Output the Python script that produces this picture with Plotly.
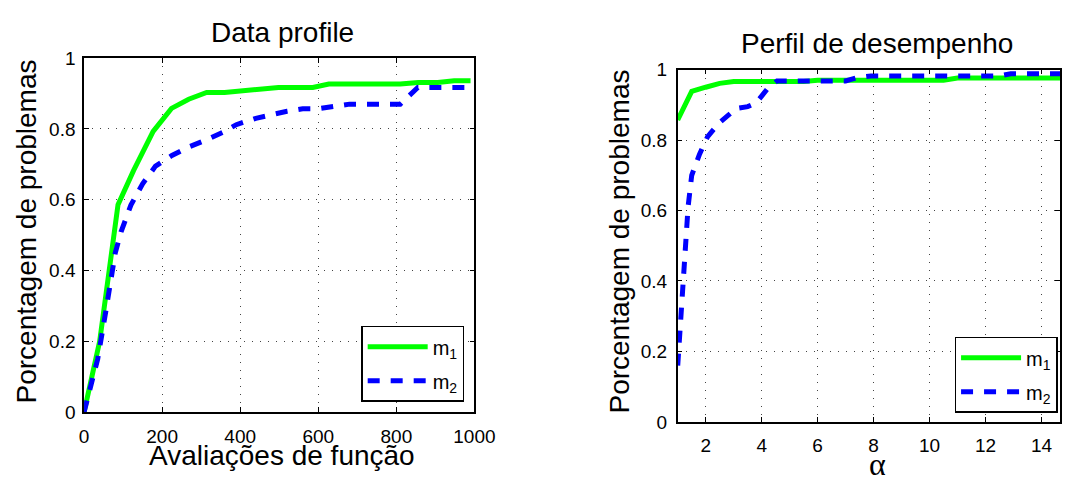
import plotly.graph_objects as go

W, H = 1081, 486

# ---- Data profile (left) ----
dp_x_m1 = [0, 40, 87, 127, 177, 224, 268, 314, 360, 450, 498, 586, 627, 810, 856, 906, 948, 990]
dp_y_m1 = [0, 0.2, 0.586, 0.683, 0.793, 0.858, 0.884, 0.903, 0.903, 0.913, 0.917, 0.917,
           0.927, 0.927, 0.931, 0.931, 0.936, 0.936]
dp_x_m2 = [0, 35, 55, 80, 95, 120, 150, 183, 225, 270, 315, 355, 390, 440, 520, 560, 600,
           640, 680, 810, 855, 990]
dp_y_m2 = [0, 0.15, 0.28, 0.45, 0.51, 0.585, 0.645, 0.695, 0.725, 0.75, 0.77, 0.79, 0.812,
           0.83, 0.85, 0.857, 0.857, 0.863, 0.87, 0.87, 0.917, 0.917]

# ---- Perfil de desempenho (right) ----
pp_x_m1 = [1, 1.5, 2, 2.5, 3, 5.5, 6, 10.5, 11, 15.2]
pp_y_m1 = [0.857, 0.938, 0.95, 0.961, 0.966, 0.966, 0.970, 0.970, 0.976, 0.976]
pp_x_m2 = [1.0, 1.08, 1.17, 1.28, 1.37, 1.5, 1.78, 2.07, 2.5, 2.8, 3.1, 3.5, 3.8, 4.2, 4.55,
           7.0, 7.4, 7.9, 12.5, 12.9, 15.2]
pp_y_m2 = [0.16, 0.26, 0.37, 0.5, 0.61, 0.7, 0.76, 0.81, 0.85, 0.87, 0.89, 0.895, 0.905,
           0.945, 0.968, 0.968, 0.977, 0.982, 0.982, 0.988, 0.988]

series_names = ["m<sub>1</sub>", "m<sub>2</sub>"]
dp_xticks = [0, 200, 400, 600, 800, 1000]
pp_xticks = [2, 4, 6, 8, 10, 12, 14]
y_ticks = [0, 0.2, 0.4, 0.6, 0.8, 1]

GREEN = "#00ff00"
BLUE = "#0000ff"
FONT = "Liberation Sans, Arial, Helvetica, sans-serif"


def fx(p):
    return p / W


def fy(p):
    return 1 - p / H


fig = go.Figure()
fig.add_trace(go.Scatter(x=dp_x_m1, y=dp_y_m1, mode="lines", name=series_names[0],
                         legendgroup="a", line=dict(color=GREEN, width=5),
                         xaxis="x", yaxis="y", legend="legend"))
fig.add_trace(go.Scatter(x=dp_x_m2, y=dp_y_m2, mode="lines", name=series_names[1],
                         legendgroup="b", line=dict(color=BLUE, width=5, dash="12px,11px"),
                         xaxis="x", yaxis="y", legend="legend"))
fig.add_trace(go.Scatter(x=pp_x_m1, y=pp_y_m1, mode="lines", name=series_names[0],
                         legendgroup="c", line=dict(color=GREEN, width=5),
                         xaxis="x2", yaxis="y2", legend="legend2"))
fig.add_trace(go.Scatter(x=pp_x_m2, y=pp_y_m2, mode="lines", name=series_names[1],
                         legendgroup="d", line=dict(color=BLUE, width=5, dash="12px,11px"),
                         xaxis="x2", yaxis="y2", legend="legend2"))

axc = dict(showline=True, linecolor="black", linewidth=1.5, mirror="ticks", ticks="inside",
           ticklen=5, tickcolor="black", tickwidth=1, showgrid=True, gridcolor="#444",
           griddash="1px,7px", gridwidth=1, zeroline=False, fixedrange=True,
           tickfont=dict(family=FONT, size=19, color="black"))

# left plot area px: x 81..481, y 50.3..420.3
# right plot area px: x 689.3..1081, y 62.3..430.5
fig.update_layout(
    width=W, height=H, margin=dict(l=0, r=0, t=0, b=0),
    paper_bgcolor="white", plot_bgcolor="white",
    xaxis=dict(axc, domain=[fx(81), fx(481)], range=[0, 1000], tickvals=dp_xticks, anchor="y",
               ticklabelstandoff=6),
    yaxis=dict(axc, domain=[fy(420.3), fy(50.3)], range=[0, 1], tickvals=y_ticks, anchor="x",
               ticklabelstandoff=3),
    xaxis2=dict(axc, domain=[fx(689.3), 1], range=[1, 1 + (W - 689.3) / 28.67],
                tickvals=pp_xticks, anchor="y2", ticklabelstandoff=6),
    yaxis2=dict(axc, domain=[fy(430.5), fy(62.3)], range=[0, 1], tickvals=y_ticks, anchor="x2",
                ticklabelstandoff=5),
    legend=dict(x=fx(470.5), xanchor="right", y=fy(409.5), yanchor="bottom", bgcolor="white",
                bordercolor="black", borderwidth=1.5, itemwidth=60, tracegroupgap=5,
                font=dict(family=FONT, size=20, color="black")),
    legend2=dict(x=fx(1078.5), xanchor="right", y=fy(421), yanchor="bottom", bgcolor="white",
                 bordercolor="black", borderwidth=1.5, itemwidth=60, tracegroupgap=5,
                 font=dict(family=FONT, size=20, color="black")),
    showlegend=True,
)

lab = dict(family=FONT, size=28, color="black")
annots = [
    dict(text="Data profile", x=fx(284), y=fy(23.7), xanchor="center", yanchor="middle", font=lab),
    dict(text="Avaliações de função", x=fx(284), y=fy(466), xanchor="center", yanchor="middle",
         font=lab),
    dict(text="Porcentagem de problemas", x=fx(22), y=fy(231), xanchor="center",
         yanchor="middle", textangle=-90, font=lab),
    dict(text="Perfil de desempenho", x=fx(894), y=fy(35.2), xanchor="center", yanchor="middle",
         font=lab),
    dict(text="Porcentagem de problemas", x=fx(629.5), y=fy(241.6), xanchor="center",
         yanchor="middle", textangle=-90, font=lab),
    dict(text="α", x=fx(894), y=fy(474), xanchor="center", yanchor="middle",
         font=dict(family="Liberation Serif, Times New Roman, serif", size=32, color="black")),
]
for a in annots:
    a.update(xref="paper", yref="paper", showarrow=False)
fig.update_layout(annotations=annots)

fig.write_html("out.html",
               post_script="document.body.style.margin='0';document.body.style.overflow='hidden';")
